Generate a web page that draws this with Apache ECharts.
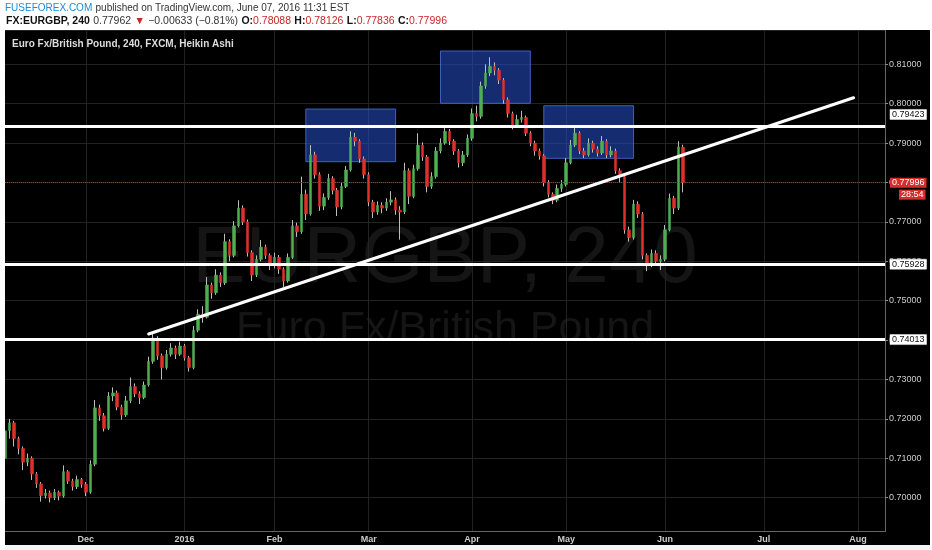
<!DOCTYPE html>
<html><head><meta charset="utf-8">
<script src="https://cdn.jsdelivr.net/npm/echarts@6/dist/echarts.min.js"></script>
<style>html,body{margin:0;padding:0;background:#fff}#c{width:932px;height:550px}</style>
</head><body><div id="c"></div>
<script>
// ---- data ----
const firstDay = '2015-11-05';
const lastDay = '2016-08-09';
const holidays = ['2015-12-25', '2016-01-01'];
const monthTickDates = ['2015-12-01','2016-01-04','2016-02-01','2016-03-01','2016-04-01','2016-05-02','2016-06-01','2016-07-01','2016-08-01'];
const monthTickLabels = ['Dec','2016','Feb','Mar','Apr','May','Jun','Jul','Aug'];
// daily Heikin Ashi candles: [open, close, low, high]
const candles = [
[0.7100,0.7170,0.7065,0.7185],[0.7170,0.7190,0.7150,0.7200],[0.7190,0.7150,0.7130,0.7195],[0.7150,0.7125,0.7110,0.7155],
[0.7125,0.7090,0.7070,0.7130],[0.7090,0.7100,0.7080,0.7112],[0.7100,0.7060,0.7045,0.7105],[0.7060,0.7035,0.7025,0.7065],
[0.7035,0.7005,0.6990,0.7040],[0.7005,0.7012,0.6998,0.7022],[0.7012,0.7000,0.6988,0.7018],[0.7000,0.7014,0.6994,0.7022],
[0.7014,0.7004,0.6993,0.7018],[0.7004,0.7066,0.7000,0.7082],[0.7066,0.7042,0.7035,0.7070],[0.7042,0.7028,0.7018,0.7048],
[0.7028,0.7046,0.7022,0.7056],[0.7046,0.7034,0.7025,0.7050],[0.7034,0.7014,0.7004,0.7040],[0.7014,0.7085,0.7010,0.7095],
[0.7085,0.7228,0.7080,0.7248],[0.7228,0.7208,0.7195,0.7236],[0.7208,0.7176,0.7168,0.7215],[0.7176,0.7258,0.7172,0.7268],
[0.7258,0.7266,0.7245,0.7280],[0.7266,0.7230,0.7222,0.7272],[0.7230,0.7210,0.7198,0.7236],[0.7210,0.7246,0.7205,0.7258],
[0.7246,0.7282,0.7240,0.7305],[0.7282,0.7264,0.7255,0.7290],[0.7264,0.7254,0.7238,0.7270],[0.7254,0.7286,0.7250,0.7295],
[0.7286,0.7346,0.7282,0.7358],[0.7346,0.7405,0.7340,0.7420],[0.7405,0.7360,0.7350,0.7410],[0.7360,0.7330,0.7300,0.7366],
[0.7330,0.7364,0.7325,0.7375],[0.7364,0.7380,0.7358,0.7392],[0.7380,0.7364,0.7352,0.7386],[0.7364,0.7385,0.7360,0.7396],
[0.7385,0.7355,0.7348,0.7390],[0.7355,0.7330,0.7320,0.7360],[0.7330,0.7425,0.7326,0.7436],[0.7425,0.7466,0.7420,0.7478],
[0.7466,0.7458,0.7444,0.7486],[0.7458,0.7540,0.7455,0.7560],[0.7540,0.7520,0.7505,0.7546],[0.7520,0.7565,0.7515,0.7580],
[0.7565,0.7545,0.7535,0.7572],[0.7545,0.7650,0.7540,0.7670],[0.7650,0.7615,0.7600,0.7656],[0.7615,0.7690,0.7610,0.7702],
[0.7690,0.7735,0.7686,0.7755],[0.7735,0.7700,0.7692,0.7742],[0.7700,0.7622,0.7612,0.7706],[0.7622,0.7565,0.7550,0.7628],
[0.7565,0.7605,0.7560,0.7615],[0.7605,0.7636,0.7600,0.7654],[0.7636,0.7615,0.7606,0.7642],[0.7615,0.7590,0.7578,0.7620],
[0.7590,0.7610,0.7582,0.7622],[0.7610,0.7580,0.7568,0.7616],[0.7580,0.7550,0.7535,0.7585],[0.7550,0.7610,0.7546,0.7620],
[0.7610,0.7690,0.7606,0.7705],[0.7690,0.7675,0.7662,0.7698],[0.7675,0.7770,0.7670,0.7815],[0.7770,0.7720,0.7705,0.7782],
[0.7720,0.7870,0.7716,0.7895],[0.7870,0.7820,0.7810,0.7878],[0.7820,0.7740,0.7728,0.7826],[0.7740,0.7762,0.7730,0.7772],
[0.7762,0.7810,0.7756,0.7822],[0.7810,0.7780,0.7770,0.7816],[0.7780,0.7738,0.7715,0.7786],[0.7738,0.7790,0.7732,0.7800],
[0.7790,0.7832,0.7786,0.7842],[0.7832,0.7915,0.7828,0.7930],[0.7915,0.7905,0.7892,0.7926],[0.7905,0.7860,0.7850,0.7910],
[0.7860,0.7820,0.7810,0.7866],[0.7820,0.7750,0.7740,0.7826],[0.7750,0.7725,0.7710,0.7756],[0.7725,0.7742,0.7718,0.7752],
[0.7742,0.7735,0.7722,0.7750],[0.7735,0.7750,0.7728,0.7760],[0.7750,0.7756,0.7742,0.7778],[0.7756,0.7730,0.7718,0.7762],
[0.7730,0.7725,0.7655,0.7740],[0.7725,0.7830,0.7720,0.7850],[0.7830,0.7765,0.7745,0.7836],[0.7765,0.7835,0.7760,0.7845],
[0.7835,0.7895,0.7830,0.7925],[0.7895,0.7865,0.7855,0.7902],[0.7865,0.7790,0.7775,0.7870],[0.7790,0.7815,0.7784,0.7826],
[0.7815,0.7880,0.7810,0.7890],[0.7880,0.7900,0.7874,0.7912],[0.7900,0.7930,0.7896,0.7942],[0.7930,0.7905,0.7895,0.7936],
[0.7905,0.7880,0.7870,0.7910],[0.7880,0.7850,0.7838,0.7885],[0.7850,0.7870,0.7842,0.7880],[0.7870,0.7912,0.7865,0.7922],
[0.7912,0.7975,0.7906,0.7988],[0.7975,0.7968,0.7955,0.7995],[0.7968,0.8045,0.7962,0.8056],[0.8045,0.8078,0.8038,0.8100],
[0.8078,0.8095,0.8070,0.8118],[0.8095,0.8085,0.8072,0.8105],[0.8085,0.8060,0.8050,0.8090],[0.8060,0.8010,0.8000,0.8065],
[0.8010,0.7975,0.7965,0.8016],[0.7975,0.7945,0.7935,0.7980],[0.7945,0.7960,0.7940,0.7972],[0.7960,0.7965,0.7952,0.7982],
[0.7965,0.7925,0.7918,0.7970],[0.7925,0.7900,0.7892,0.7930],[0.7900,0.7880,0.7868,0.7906],[0.7880,0.7868,0.7858,0.7886],
[0.7868,0.7800,0.7790,0.7872],[0.7800,0.7770,0.7762,0.7806],[0.7770,0.7755,0.7745,0.7775],[0.7755,0.7785,0.7750,0.7795],
[0.7785,0.7795,0.7776,0.7806],[0.7795,0.7850,0.7790,0.7862],[0.7850,0.7895,0.7846,0.7908],[0.7895,0.7925,0.7890,0.7946],
[0.7925,0.7880,0.7872,0.7930],[0.7880,0.7870,0.7862,0.7888],[0.7870,0.7900,0.7866,0.7912],[0.7900,0.7885,0.7876,0.7906],
[0.7885,0.7875,0.7866,0.7892],[0.7875,0.7905,0.7870,0.7918],[0.7905,0.7870,0.7862,0.7910],[0.7870,0.7880,0.7864,0.7892],
[0.7880,0.7830,0.7822,0.7886],[0.7830,0.7815,0.7800,0.7836],[0.7815,0.7680,0.7670,0.7820],[0.7680,0.7660,0.7650,0.7688],
[0.7660,0.7745,0.7655,0.7756],[0.7745,0.7720,0.7710,0.7752],[0.7720,0.7615,0.7605,0.7725],[0.7615,0.7590,0.7575,0.7620],
[0.7590,0.7620,0.7585,0.7630],[0.7620,0.7600,0.7590,0.7628],[0.7600,0.7605,0.7578,0.7615],[0.7605,0.7680,0.7600,0.7692],
[0.7680,0.7760,0.7676,0.7772],[0.7760,0.7735,0.7720,0.7766],[0.7735,0.7890,0.7730,0.7905],[0.7890,0.7800,0.7775,0.7896]
];
const levelValues = [0.79423, 0.75928, 0.74013];
const lastClose = 0.77996;
const countdownText = '28:54';
const trendFrom = ['2015-12-21', 0.74155];
const trendTo = ['2016-07-29', 0.80152];
// rectangles: [fromDate, toDate, topPrice, bottomPrice]
const boxes = [
  ['2016-02-10', '2016-03-09', 0.79865, 0.78528],
  ['2016-03-23', '2016-04-20', 0.81338, 0.80010],
  ['2016-04-25', '2016-05-23', 0.79949, 0.78614]
];
const priceMin = 0.69137, priceMax = 0.81871;

// ---- build ----
function tradingDays(s, e) {
  const out = [];
  let d = new Date(s + 'T00:00:00Z');
  const end = new Date(e + 'T00:00:00Z');
  while (d <= end) {
    const w = d.getUTCDay();
    const str = d.toISOString().slice(0, 10);
    if (w !== 0 && w !== 6 && holidays.indexOf(str) < 0) out.push(str);
    d = new Date(d.getTime() + 86400000);
  }
  return out;
}
const dates = tradingDays(firstDay, lastDay);
const bodies = candles.map(r => [r[0], r[1], Math.min(r[0], r[1]), Math.max(r[0], r[1])]);
const isMonthTick = (i, v) => monthTickDates.indexOf(v) >= 0;
const FONT = 'Liberation Sans, Arial, sans-serif';

const whiteLabel = (txt, dy) => ({
  show: true, position: 'end', distance: 5, formatter: txt, offset: [0, dy],
  backgroundColor: '#fff', color: '#111', fontSize: 9, fontFamily: FONT,
  padding: [1, 2, 0, 2], lineHeight: 9, borderColor: '#777', borderWidth: 0.5
});
const redLabel = (txt, off) => ({
  show: true, position: 'end', distance: 5, formatter: txt, offset: off,
  backgroundColor: '#d32f2f', color: '#fff', fontSize: 9, fontFamily: FONT,
  padding: [1, 2, 0, 2], lineHeight: 9
});

const chart = echarts.init(document.getElementById('c'), null, {renderer: 'canvas'});
chart.setOption({
  animation: false,
  backgroundColor: '#000',
  textStyle: {fontFamily: FONT},
  grid: {left: 5, right: 47, top: 30, bottom: 18.3, containLabel: false},
  graphic: [
    {type: 'text', z: -5, x: 445, y: 260, silent: true,
     style: {text: 'EURGBP, 240', fill: '#151515', font: '80px ' + FONT, textAlign: 'center', textVerticalAlign: 'middle'}},
    {type: 'text', z: -5, x: 445, y: 329, silent: true,
     style: {text: 'Euro Fx/British Pound', fill: '#151515', font: '43px ' + FONT, textAlign: 'center', textVerticalAlign: 'middle'}},
    {type: 'rect', z: 50, silent: true, shape: {x: 0, y: 0, width: 932, height: 30}, style: {fill: '#fff'}},
    {type: 'rect', z: 50, silent: true, shape: {x: 0, y: 545, width: 932, height: 5}, style: {fill: '#f2f4f5'}},
    {type: 'rect', z: 50, silent: true, shape: {x: 0, y: 30, width: 5, height: 520}, style: {fill: '#fff'}},
    {type: 'rect', z: 50, silent: true, shape: {x: 930, y: 30, width: 2, height: 520}, style: {fill: '#fff'}},
    {type: 'text', z: 51, x: 5, y: 8, silent: true,
     style: {text: '{b|FUSEFOREX.COM} {g|published on TradingView.com, June 07, 2016 11:31 EST}', textVerticalAlign: 'middle',
       rich: {b: {fill: '#1f8ad6', fontSize: 10, fontFamily: FONT}, g: {fill: '#333', fontSize: 10, fontFamily: FONT}}}},
    {type: 'text', z: 51, x: 6, y: 21.5, silent: true,
     style: {text: '{k|FX:EURGBP, 240} {g|0.77962} {r|▼} {g|\u22120.00633 (\u22120.81%)} {k|O:}{r|0.78088} {k|H:}{r|0.78126} {k|L:}{r|0.77836} {k|C:}{r|0.77996}',
       textVerticalAlign: 'middle',
       rich: {k: {fill: '#111', fontSize: 10.5, fontWeight: 'bold', fontFamily: FONT},
              g: {fill: '#333', fontSize: 10.5, fontFamily: FONT},
              r: {fill: '#c62828', fontSize: 10.5, fontFamily: FONT}}}},
    {type: 'text', z: 40, x: 12, y: 44, silent: true,
     style: {text: 'Euro Fx/British Pound, 240, FXCM, Heikin Ashi', fill: '#ddd', font: 'bold 10px ' + FONT, textVerticalAlign: 'middle'}}
  ],
  xAxis: {
    type: 'category', data: dates, boundaryGap: false,
    axisLine: {show: true, lineStyle: {color: '#666'}},
    axisTick: {show: false},
    axisLabel: {interval: isMonthTick, color: '#ccc', fontSize: 9, fontWeight: 'bold', margin: 3,
      formatter: v => monthTickLabels[monthTickDates.indexOf(v)] || ''},
    splitLine: {show: true, interval: isMonthTick, lineStyle: {color: '#222', width: 1}}
  },
  yAxis: {
    type: 'value', position: 'right', min: priceMin, max: priceMax, scale: true,
    splitNumber: 13, minInterval: 0.01, maxInterval: 0.01,
    axisLine: {show: true, lineStyle: {color: '#666'}},
    axisTick: {show: true, length: 3, lineStyle: {color: '#888'}},
    axisLabel: {color: '#ccc', fontSize: 9, margin: 4, showMinLabel: false, showMaxLabel: false,
      formatter: v => v.toFixed(5)},
    splitLine: {show: true, lineStyle: {color: '#222', width: 1}}
  },
  series: [
    {
      name: 'wicks', type: 'candlestick', data: candles, barWidth: 1, z: 3,
      itemStyle: {color: '#bdbdbd', color0: '#bdbdbd', borderColor: '#bdbdbd', borderColor0: '#bdbdbd', borderWidth: 1},
      markArea: {
        silent: true,
        itemStyle: {color: 'rgba(38,76,195,0.58)', borderColor: 'rgba(80,120,235,0.75)', borderWidth: 1},
        data: boxes.map(b => [{coord: [b[0], b[2]]}, {coord: [b[1], b[3]]}])
      }
    },
    {
      name: 'bodies', type: 'candlestick', data: bodies, barWidth: 3, z: 4,
      itemStyle: {color: '#4fae52', color0: '#e0302b', borderColor: '#4fae52', borderColor0: '#e0302b', borderWidth: 0.5},
      markLine: {
        silent: true, symbol: ['none', 'none'], animation: false, precision: 5,
        data: [
          {yAxis: levelValues[0], lineStyle: {color: '#fff', width: 3, type: 'solid'}, label: whiteLabel(levelValues[0].toFixed(5), -12)},
          {yAxis: levelValues[1], lineStyle: {color: '#fff', width: 3, type: 'solid'}, label: whiteLabel(levelValues[1].toFixed(5), 0)},
          {yAxis: levelValues[2], lineStyle: {color: '#fff', width: 3, type: 'solid'}, label: whiteLabel(levelValues[2].toFixed(5), 0)},
          {yAxis: lastClose, lineStyle: {color: '#c62828', width: 1, type: 'dotted'}, label: redLabel(lastClose.toFixed(5), [0, 0])},
          {yAxis: lastClose, lineStyle: {color: 'rgba(0,0,0,0)', width: 1, type: 'solid'}, label: redLabel(countdownText, [9, 12])},
          [{coord: trendFrom, lineStyle: {color: '#fff', width: 3, type: 'solid', cap: 'round'}, label: {show: false}},
           {coord: trendTo}]
        ]
      }
    }
  ]
});
</script></body></html>
